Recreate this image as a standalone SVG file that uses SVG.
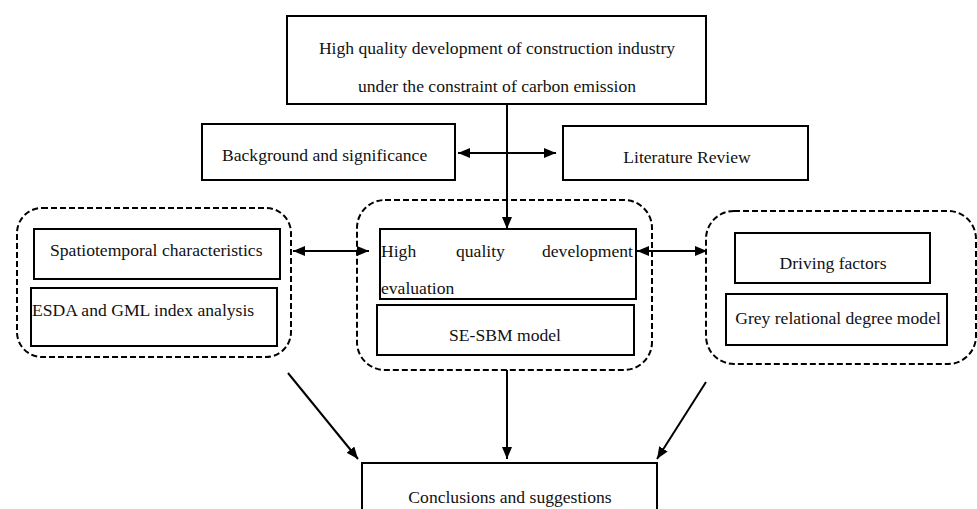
<svg xmlns="http://www.w3.org/2000/svg" width="977" height="509" viewBox="0 0 977 509">
<defs>
<marker id="ah" viewBox="0 0 12 10" refX="12" refY="5" markerWidth="12" markerHeight="10" markerUnits="userSpaceOnUse" orient="auto-start-reverse">
<path d="M0,0 L12,5 L0,10 Z" fill="#000"/>
</marker>
<style>
.box{fill:#fff;stroke:#000;stroke-width:2}
.grp{fill:none;stroke:#000;stroke-width:2;stroke-dasharray:6 3}
.t{font-family:"Liberation Serif","Times New Roman",serif;font-size:17.6px;fill:#111}
.c{text-anchor:middle}
.ln{stroke:#000;stroke-width:2;fill:none}
</style>
</defs>
<rect width="977" height="509" fill="#fff"/>
<g id="top">
<rect class="box" x="287" y="16" width="419" height="88"/>
<text class="t c" x="497" y="54">High quality development of construction industry</text>
<text class="t c" x="497" y="92">under the constraint of carbon emission</text>
</g>
<g id="background">
<rect class="box" x="202" y="124" width="253" height="56"/>
<text class="t" x="222" y="161">Background and significance</text>
</g>
<g id="literature">
<rect class="box" x="563" y="126" width="245" height="54"/>
<text class="t c" x="687" y="163">Literature Review</text>
</g>
<g id="left-group">
<rect class="grp" x="17" y="208" width="274" height="149" rx="25"/>
<rect class="box" x="34" y="229" width="246" height="50"/>
<text class="t" x="50" y="256">Spatiotemporal characteristics</text>
<rect class="box" x="31" y="288" width="246" height="58"/>
<text class="t" x="32" y="316">ESDA and GML index analysis</text>
</g>
<g id="mid-group">
<rect class="grp" x="357" y="200" width="295" height="170" rx="28"/>
<rect class="box" x="380" y="229" width="256" height="70"/>
<text class="t" x="381" y="257">High</text>
<text class="t" x="456" y="257">quality</text>
<text class="t" x="542" y="257">development</text>
<text class="t" x="381" y="294">evaluation</text>
<rect class="box" x="377" y="305" width="257" height="50"/>
<text class="t c" x="505" y="341">SE-SBM model</text>
</g>
<g id="right-group">
<rect class="grp" x="706" y="211" width="270" height="153" rx="28"/>
<rect class="box" x="735" y="233" width="195" height="50"/>
<text class="t c" x="833" y="269">Driving factors</text>
<rect class="box" x="726" y="294" width="221" height="51"/>
<text class="t c" x="838" y="324">Grey relational degree model</text>
</g>
<g id="conclusions">
<rect class="box" x="362" y="463" width="295" height="60"/>
<text class="t c" x="510" y="503">Conclusions and suggestions</text>
</g>
<g id="connectors">
<line class="ln" x1="507" y1="104" x2="507" y2="229" marker-end="url(#ah)"/>
<line class="ln" x1="458" y1="153" x2="556" y2="153" marker-start="url(#ah)" marker-end="url(#ah)"/>
<line class="ln" x1="293" y1="251" x2="369" y2="251" marker-start="url(#ah)" marker-end="url(#ah)"/>
<line class="ln" x1="637" y1="251" x2="707" y2="251" marker-start="url(#ah)" marker-end="url(#ah)"/>
<line class="ln" x1="288" y1="373" x2="358" y2="459" marker-end="url(#ah)"/>
<line class="ln" x1="507" y1="370" x2="507" y2="459" marker-end="url(#ah)"/>
<line class="ln" x1="706" y1="382" x2="657" y2="459" marker-end="url(#ah)"/>
</g>
</svg>
